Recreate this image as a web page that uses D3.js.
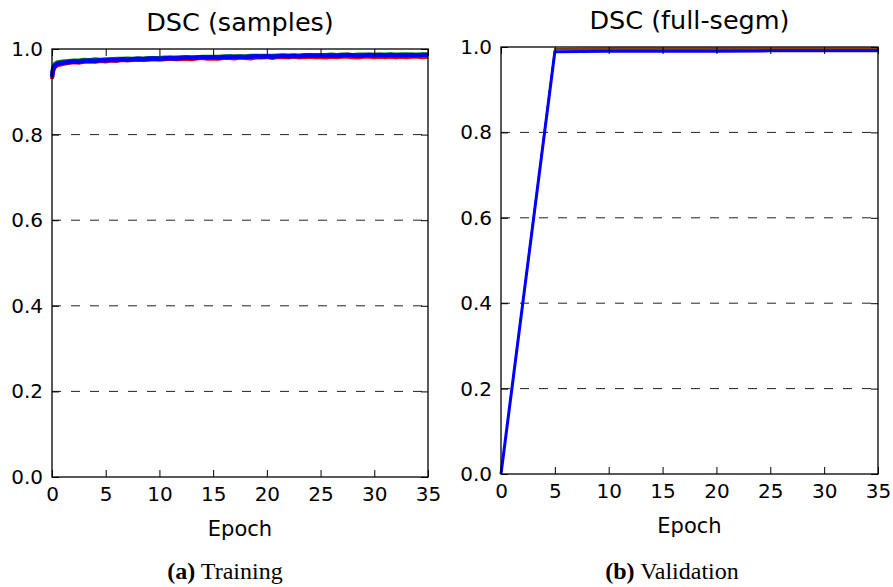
<!DOCTYPE html>
<html>
<head>
<meta charset="utf-8">
<script src="https://cdn.jsdelivr.net/npm/d3@7/dist/d3.min.js"></script>
<style>
  body { margin: 0; background: #fff; }
  text { font-family: "DejaVu Sans", sans-serif; fill: #000; }
  .frame { fill: none; stroke: #000; stroke-width: 1.3; }
  .grid line { stroke: #222; stroke-width: 1; stroke-dasharray: 9 10; }
  .tick line { stroke: #000; stroke-width: 1; }
  .caption { font-family: "Liberation Serif", "Times New Roman", serif; font-size: 24px; }
</style>
</head>
<body>
<svg width="893" height="587"></svg>
<script>
// training: samples DSC per epoch
const trainEpochs = [0, 0.1, 0.25, 0.5, 1, 1.5, 2, 2.5, 3, 3.5, 4, 4.5, 5, 5.5, 6, 6.5, 7, 7.5, 8, 8.5,
  9, 9.5, 10, 10.5, 11, 11.5, 12, 12.5, 13, 13.5, 14, 14.5, 15, 15.5, 16, 16.5, 17, 17.5, 18, 18.5,
  19, 19.5, 20, 20.5, 21, 21.5, 22, 22.5, 23, 23.5, 24, 24.5, 25, 25.5, 26, 26.5, 27, 27.5, 28, 28.5,
  29, 29.5, 30, 30.5, 31, 31.5, 32, 32.5, 33, 33.5, 34, 34.5, 35];
const trainRed = [0.930, 0.948, 0.957, 0.962, 0.965, 0.967, 0.969, 0.968, 0.970, 0.971, 0.970, 0.972, 0.971, 0.973, 0.972, 0.974, 0.973, 0.974, 0.975, 0.974,
  0.975, 0.976, 0.975, 0.976, 0.977, 0.976, 0.976, 0.977, 0.976, 0.978, 0.979, 0.977, 0.978, 0.977, 0.979, 0.979, 0.978, 0.980, 0.979, 0.978,
  0.980, 0.980, 0.981, 0.979, 0.981, 0.981, 0.980, 0.982, 0.980, 0.981, 0.982, 0.981, 0.981, 0.980, 0.982, 0.981, 0.982, 0.982, 0.981, 0.980,
  0.982, 0.982, 0.981, 0.982, 0.981, 0.982, 0.981, 0.982, 0.981, 0.982, 0.982, 0.981, 0.982];
const trainGreen = [0.940, 0.957, 0.965, 0.969, 0.971, 0.972, 0.973, 0.973, 0.975, 0.974, 0.976, 0.975, 0.976, 0.976, 0.977, 0.977, 0.978, 0.977, 0.978, 0.978,
  0.979, 0.979, 0.979, 0.980, 0.980, 0.980, 0.981, 0.981, 0.981, 0.981, 0.982, 0.982, 0.982, 0.982, 0.983, 0.983, 0.983, 0.983, 0.983, 0.984,
  0.984, 0.984, 0.984, 0.984, 0.985, 0.985, 0.985, 0.985, 0.985, 0.986, 0.986, 0.986, 0.986, 0.986, 0.987, 0.986, 0.987, 0.987, 0.986, 0.987,
  0.987, 0.987, 0.987, 0.987, 0.987, 0.988, 0.987, 0.987, 0.988, 0.987, 0.987, 0.988, 0.987];
const trainBlue = [0.935, 0.952, 0.960, 0.965, 0.968, 0.969, 0.971, 0.970, 0.972, 0.973, 0.972, 0.974, 0.973, 0.975, 0.974, 0.976, 0.975, 0.976, 0.977, 0.976,
  0.977, 0.978, 0.977, 0.978, 0.979, 0.978, 0.979, 0.980, 0.979, 0.980, 0.981, 0.980, 0.981, 0.980, 0.981, 0.982, 0.981, 0.982, 0.981, 0.982,
  0.983, 0.982, 0.983, 0.982, 0.983, 0.984, 0.983, 0.984, 0.983, 0.984, 0.985, 0.984, 0.985, 0.984, 0.985, 0.984, 0.985, 0.986, 0.985, 0.984,
  0.985, 0.986, 0.985, 0.986, 0.985, 0.986, 0.985, 0.986, 0.985, 0.986, 0.985, 0.986, 0.986];

// validation: full segmentation DSC every 5 epochs
const valEpochs = [0, 5, 10, 15, 20, 25, 30, 35];
const valRed = [0, 0.996, 0.997, 0.997, 0.997, 0.997, 0.997, 0.997];
const valGreen = [0, 0.995, 0.995, 0.995, 0.995, 0.995, 0.995, 0.995];
const valBlue = [0, 0.989, 0.990, 0.990, 0.990, 0.991, 0.991, 0.991];

const xTicks = [0, 5, 10, 15, 20, 25, 30, 35];
const yTicks = [0, 0.2, 0.4, 0.6, 0.8, 1.0];
const gridTicks = [0.2, 0.4, 0.6, 0.8];

const svg = d3.select("svg");

function drawPanel(p) {
  const x = d3.scaleLinear().domain([0, 35]).range([p.left, p.right]);
  const y = d3.scaleLinear().domain([0, 1]).range([p.bottom, p.top]);
  const g = svg.append("g");

  g.append("g").attr("class", "grid")
    .selectAll("line").data(gridTicks).join("line")
    .attr("x1", p.left).attr("x2", p.right)
    .attr("y1", (d) => y(d)).attr("y2", (d) => y(d));

  const line = d3.line().x((d) => x(d[0])).y((d) => y(d[1]));
  p.series.forEach((s) => {
    g.append("path")
      .datum(p.epochs.map((e, i) => [e, s.values[i]]))
      .attr("fill", "none")
      .attr("stroke", s.color)
      .attr("stroke-width", s.width)
      .attr("stroke-linejoin", "round")
      .attr("d", line);
  });

  const fmt = d3.format(".1f");
  const axB = g.append("g").attr("transform", `translate(0,${p.bottom})`)
    .call(d3.axisBottom(x).tickValues(xTicks).tickSizeInner(-7).tickSizeOuter(0).tickPadding(10));
  const axT = g.append("g").attr("transform", `translate(0,${p.top})`)
    .call(d3.axisTop(x).tickValues(xTicks).tickSizeInner(-7).tickSizeOuter(0).tickFormat(""));
  const axL = g.append("g").attr("transform", `translate(${p.left},0)`)
    .call(d3.axisLeft(y).tickValues(yTicks).tickSizeInner(-7).tickSizeOuter(0).tickPadding(9).tickFormat(fmt));
  const axR = g.append("g").attr("transform", `translate(${p.right},0)`)
    .call(d3.axisRight(y).tickValues(yTicks).tickSizeInner(-7).tickSizeOuter(0).tickFormat(""));
  [axB, axT, axL, axR].forEach((a) => {
    a.select(".domain").remove();
    a.selectAll("text").style("font-size", "20px").style("font-family", "DejaVu Sans");
  });

  g.append("rect").attr("class", "frame")
    .attr("x", p.left).attr("y", p.top)
    .attr("width", p.right - p.left).attr("height", p.bottom - p.top);

  const cx = (p.left + p.right) / 2;
  g.append("text").attr("x", cx).attr("y", p.top - 18)
    .attr("text-anchor", "middle").style("font-size", "25.5px").text(p.title);
  g.append("text").attr("x", cx).attr("y", p.bottom + 59)
    .attr("text-anchor", "middle").style("font-size", "21px").text("Epoch");
  const cap = g.append("text").attr("class", "caption")
    .attr("x", p.capX).attr("y", 579).attr("text-anchor", "middle");
  cap.append("tspan").style("font-weight", "bold").text(p.capTag);
  cap.append("tspan").text(" " + p.capText);
}

drawPanel({
  left: 52, right: 428, top: 49, bottom: 477,
  title: "DSC (samples)", capX: 225, capTag: "(a)", capText: "Training",
  epochs: trainEpochs,
  series: [
    { values: trainRed, color: "#ff0000", width: 4 },
    { values: trainGreen, color: "#008000", width: 4 },
    { values: trainBlue, color: "#0000ff", width: 4.5 },
  ],
});

drawPanel({
  left: 501, right: 878, top: 47, bottom: 474,
  title: "DSC (full-segm)", capX: 672, capTag: "(b)", capText: "Validation",
  epochs: valEpochs,
  series: [
    { values: valRed, color: "#ff0000", width: 1.5 },
    { values: valGreen, color: "#008000", width: 1.5 },
    { values: valBlue, color: "#0000ff", width: 3 },
  ],
});
</script>
</body>
</html>
